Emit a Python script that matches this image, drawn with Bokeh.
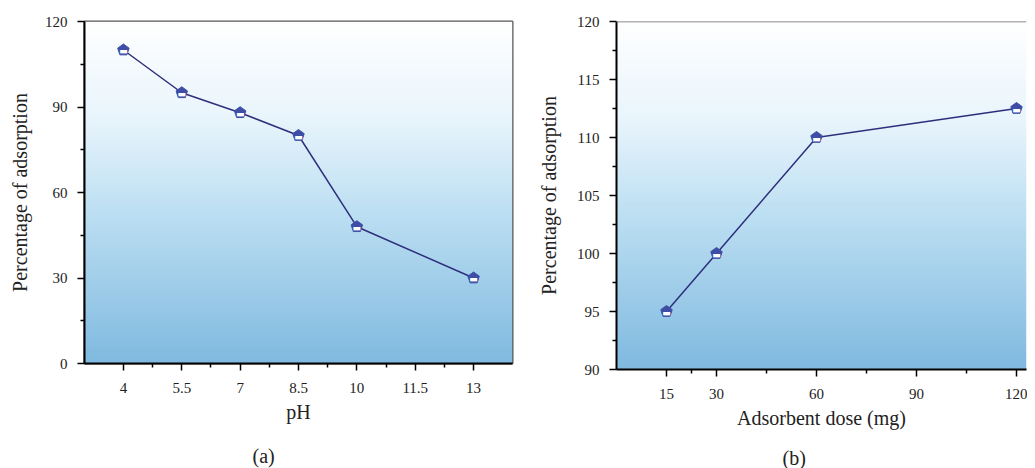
import numpy as np
from bokeh.plotting import figure
from bokeh.models import Range1d, FixedTicker, Span, Title
from bokeh.layouts import row
from bokeh.embed import file_html
from bokeh.resources import INLINE
from bokeh.core.properties import value

# ---- data: panel (a) ----
ph = [4, 5.5, 7, 8.5, 10, 13]
ph_adsorption = [110, 95, 88, 80, 48, 30]
ph_xticks = [4, 5.5, 7, 8.5, 10, 11.5, 13]
ph_xminor = [4.75, 6.25, 7.75, 9.25, 10.75, 12.25]
ph_yticks = [0, 30, 60, 90, 120]
ph_yminor = [15, 45, 75, 105]

# ---- data: panel (b) ----
dose = [15, 30, 60, 120]
dose_adsorption = [95, 100, 110, 112.5]
dose_xticks = [15, 30, 60, 90, 120]
dose_xminor = [22.5, 45, 75, 105]
dose_yticks = [90, 95, 100, 105, 110, 115, 120]
dose_yminor = [92.5, 97.5, 102.5, 107.5, 112.5, 117.5]

FONT = "Liberation Serif"
LINE_COLOR = "#2E2F7C"
MARK_COLOR = "#3E4DA6"


def gradient_image(n=256):
    # row 0 = bottom of the frame
    stops = [(0.0, (128, 186, 224)), (0.45, (190, 224, 243)),
             (0.72, (233, 245, 252)), (1.0, (255, 255, 255))]
    img = np.empty((n, 1), dtype=np.uint32)
    view = img.view(dtype=np.uint8).reshape((n, 1, 4))
    ts = np.linspace(0, 1, n)
    st = np.array([s[0] for s in stops])
    for c in range(3):
        view[:, 0, c] = np.interp(ts, st, [s[1][c] for s in stops]).astype(np.uint8)
    view[:, 0, 3] = 255
    return img


def make_panel(xs, ys, xr, yr, xticks, xminor, yticks, yminor, xlabel, tag,
               fw, fh, left, right, bottom, tag_offset, tag_standoff,
               ylabel_standoff, top_span=False):
    p = figure(frame_width=fw, frame_height=fh,
               x_range=Range1d(*xr), y_range=Range1d(*yr),
               output_backend="svg", toolbar_location=None,
               min_border_left=left, min_border_right=right,
               min_border_top=21, min_border_bottom=bottom)
    p.grid.visible = False
    p.background_fill_color = "white"
    p.border_fill_color = "white"
    if top_span:
        p.outline_line_color = None
        p.add_layout(Span(location=yr[1], dimension="width",
                          line_color="#666666", line_width=1.5))
    else:
        p.outline_line_color = "#555555"
        p.outline_line_width = 2

    p.image_rgba(image=[gradient_image()], x=xr[0], y=yr[0],
                 dw=xr[1] - xr[0], dh=yr[1] - yr[0])
    p.line(xs, ys, line_color=LINE_COLOR, line_width=1.5)
    if hasattr(p, "ngon"):
        p.ngon(x=xs, y=ys, radius=6, radius_units="screen", n=5,
               fill_color=MARK_COLOR, line_color=MARK_COLOR, line_width=1)
    else:
        p.scatter(xs, ys, marker="hex", size=12,
                  fill_color=MARK_COLOR, line_color=MARK_COLOR)
    p.text(x=xs, y=ys, text=["\u25AC"] * len(xs), text_color="white",
           text_font=value("DejaVu Sans"), text_font_size="9px",
           text_align="center", text_baseline="middle", y_offset=1)

    for ax in (p.xaxis[0], p.yaxis[0]):
        ax.axis_line_color = "black"
        ax.axis_line_width = 2
        ax.major_tick_line_color = "black"
        ax.major_tick_line_width = 1.5
        ax.minor_tick_line_color = "black"
        ax.minor_tick_line_width = 1.5
        ax.major_tick_out = 7
        ax.major_tick_in = 0
        ax.minor_tick_out = 4
        ax.minor_tick_in = 0
        ax.major_label_text_font = FONT
        ax.major_label_text_font_size = "15px"
        ax.major_label_text_color = "#222222"
        ax.axis_label_text_font = FONT
        ax.axis_label_text_font_size = "20px"
        ax.axis_label_text_font_style = "normal"
        ax.axis_label_text_color = "#222222"
    p.xaxis[0].ticker = FixedTicker(ticks=xticks, minor_ticks=xminor)
    p.yaxis[0].ticker = FixedTicker(ticks=yticks, minor_ticks=yminor)
    p.xaxis[0].major_label_standoff = 12
    p.yaxis[0].major_label_standoff = 10
    p.xaxis[0].axis_label_standoff = 5
    p.yaxis[0].axis_label_standoff = ylabel_standoff
    p.xaxis[0].axis_label = xlabel
    p.yaxis[0].axis_label = "Percentage of adsorption"

    p.add_layout(Title(text=tag, align="left", offset=tag_offset,
                       text_font=FONT, text_font_size="20px",
                       text_font_style="normal", text_color="#222222",
                       standoff=tag_standoff), "below")
    return p


pa = make_panel(ph, ph_adsorption, (3, 14), (0, 120), ph_xticks, ph_xminor,
                ph_yticks, ph_yminor, "pH", "(a)",
                fw=428, fh=342, left=84, right=4, bottom=104,
                tag_offset=168, tag_standoff=35, ylabel_standoff=11)
pb = make_panel(dose, dose_adsorption, (0, 123.0), (90, 120), dose_xticks,
                dose_xminor, dose_yticks, dose_yminor, "Adsorbent dose (mg)",
                "(b)", fw=410, fh=348, left=100, right=1, bottom=98,
                tag_offset=166, tag_standoff=26, ylabel_standoff=14,
                top_span=True)

layout = row(pa, pb, spacing=0)
open("out.html", "w").write(file_html(layout, INLINE))
